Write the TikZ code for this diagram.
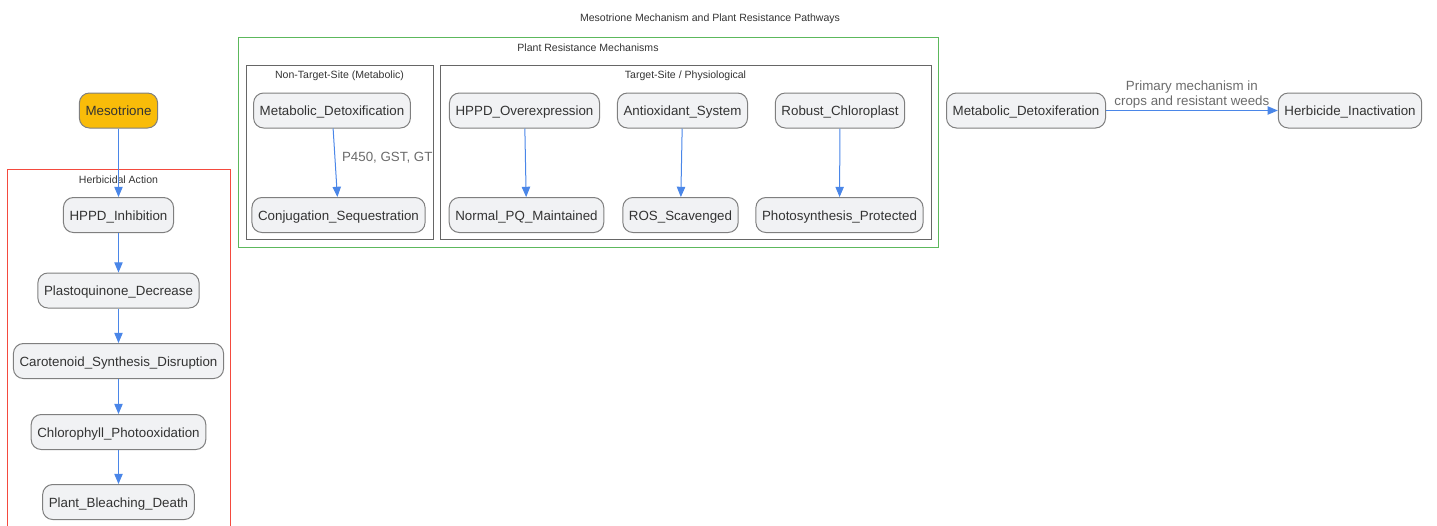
\documentclass[tikz,border=0pt]{standalone}
\usepackage{fontspec}
\setmainfont{Liberation Sans}
\usepackage{xcolor}
\usetikzlibrary{arrows, positioning}
\definecolor{nodefill}{HTML}{F1F2F4}
\definecolor{nodeline}{HTML}{7F7F7F}
\definecolor{nodetext}{HTML}{333333}
\definecolor{startfill}{HTML}{F9BC09}
\definecolor{flowblue}{HTML}{4A86E8}
\definecolor{herbred}{HTML}{F44A3E}
\definecolor{resgreen}{HTML}{5CB85C}
\definecolor{subgray}{HTML}{666666}
\definecolor{lblgray}{HTML}{6B6B6B}
\tikzset{
    >=triangle 45, % plain filled arrow heads
    step box/.style={draw=nodeline, line width=0.75pt, fill=nodefill, rounded corners=7.5pt,
        minimum height=26.25pt, inner xsep=4.6pt, text height=8.6pt, text depth=1pt, text=nodetext,
        font=\fontsize{10}{12}\selectfont}, % every process step
    start box/.style={step box, fill=startfill}, % the herbicide itself
    flow/.style={->, draw=flowblue, line width=0.75pt}, % connectors
    edge lbl/.style={text=lblgray, font=\fontsize{10}{11.5}\selectfont, align=center}, % connector labels
    group title/.style={text=nodetext, font=\fontsize{7.9}{9}\selectfont}, % cluster titles
    herb frame/.style={draw=herbred, line width=0.75pt},
    res frame/.style={draw=resgreen, line width=0.75pt},
    sub frame/.style={draw=subgray, line width=0.75pt},
}

\begin{document}
\begin{tikzpicture}[x=0.75pt, y=-0.75pt]
\useasboundingbox (0,0) rectangle (1437,525);

\node[group title] (title) at (710,18.5) {Mesotrione Mechanism and Plant Resistance Pathways};

% clusters
\draw[herb frame] (7,169) rectangle (230,540);
\node[group title] (herbtitle) at (118.5,180) {Herbicidal Action};
\draw[res frame] (238,37) rectangle (938,247);
\node[group title] (restitle) at (588,48) {Plant Resistance Mechanisms};
\draw[sub frame] (246,65) rectangle (433,239);
\node[group title] (ntstitle) at (339.5,76) {Non-Target-Site (Metabolic)};
\draw[sub frame] (440,65) rectangle (931,239);
\node[group title] (tstitle) at (685.5,76) {Target-Site / Physiological};

% herbicidal action
\node[start box] (meso) at (118.5,110.5) {Mesotrione};
\node[step box] (hppdinh) at (118.5,215) {HPPD\_Inhibition};
\node[step box] (pqdec) at (118.5,290.5) {Plastoquinone\_Decrease};
\node[step box] (carot) at (118.5,361) {Carotenoid\_Synthesis\_Disruption};
\node[step box] (chloro) at (118.5,432) {Chlorophyll\_Photooxidation};
\node[step box] (bleach) at (118.5,502) {Plant\_Bleaching\_Death};

% resistance mechanisms
\node[step box] (metadetox) at (332,110.5) {Metabolic\_Detoxification};
\node[step box] (conjseq) at (338.5,215) {Conjugation\_Sequestration};
\node[step box] (hppdover) at (524.5,110.5) {HPPD\_Overexpression};
\node[step box] (normpq) at (526.5,215) {Normal\_PQ\_Maintained};
\node[step box] (antiox) at (682.5,110.5) {Antioxidant\_System};
\node[step box] (ros) at (680.5,215) {ROS\_Scavenged};
\node[step box] (robust) at (840,110.5) {Robust\_Chloroplast};
\node[step box] (photo) at (839.5,215) {Photosynthesis\_Protected};

% outside
\node[step box] (metadetoxif) at (1026,110.5) {Metabolic\_Detoxiferation};
\node[step box] (inact) at (1350,110.5) {Herbicide\_Inactivation};

\draw[flow] (meso) -- (hppdinh);
\draw[flow] (hppdinh) -- (pqdec);
\draw[flow] (pqdec) -- (carot);
\draw[flow] (carot) -- (chloro);
\draw[flow] (chloro) -- (bleach);
\draw[flow] (metadetox) -- node[edge lbl, right, pos=0.42, inner xsep=5pt] {P450, GST, GT} (conjseq);
\draw[flow] (hppdover) -- (normpq);
\draw[flow] (antiox) -- (ros);
\draw[flow] (robust) -- (photo);
\draw[flow] (metadetoxif) -- node[edge lbl, above, inner sep=1pt] {Primary mechanism in\\crops and resistant weeds} (inact);
\end{tikzpicture}
\end{document}
